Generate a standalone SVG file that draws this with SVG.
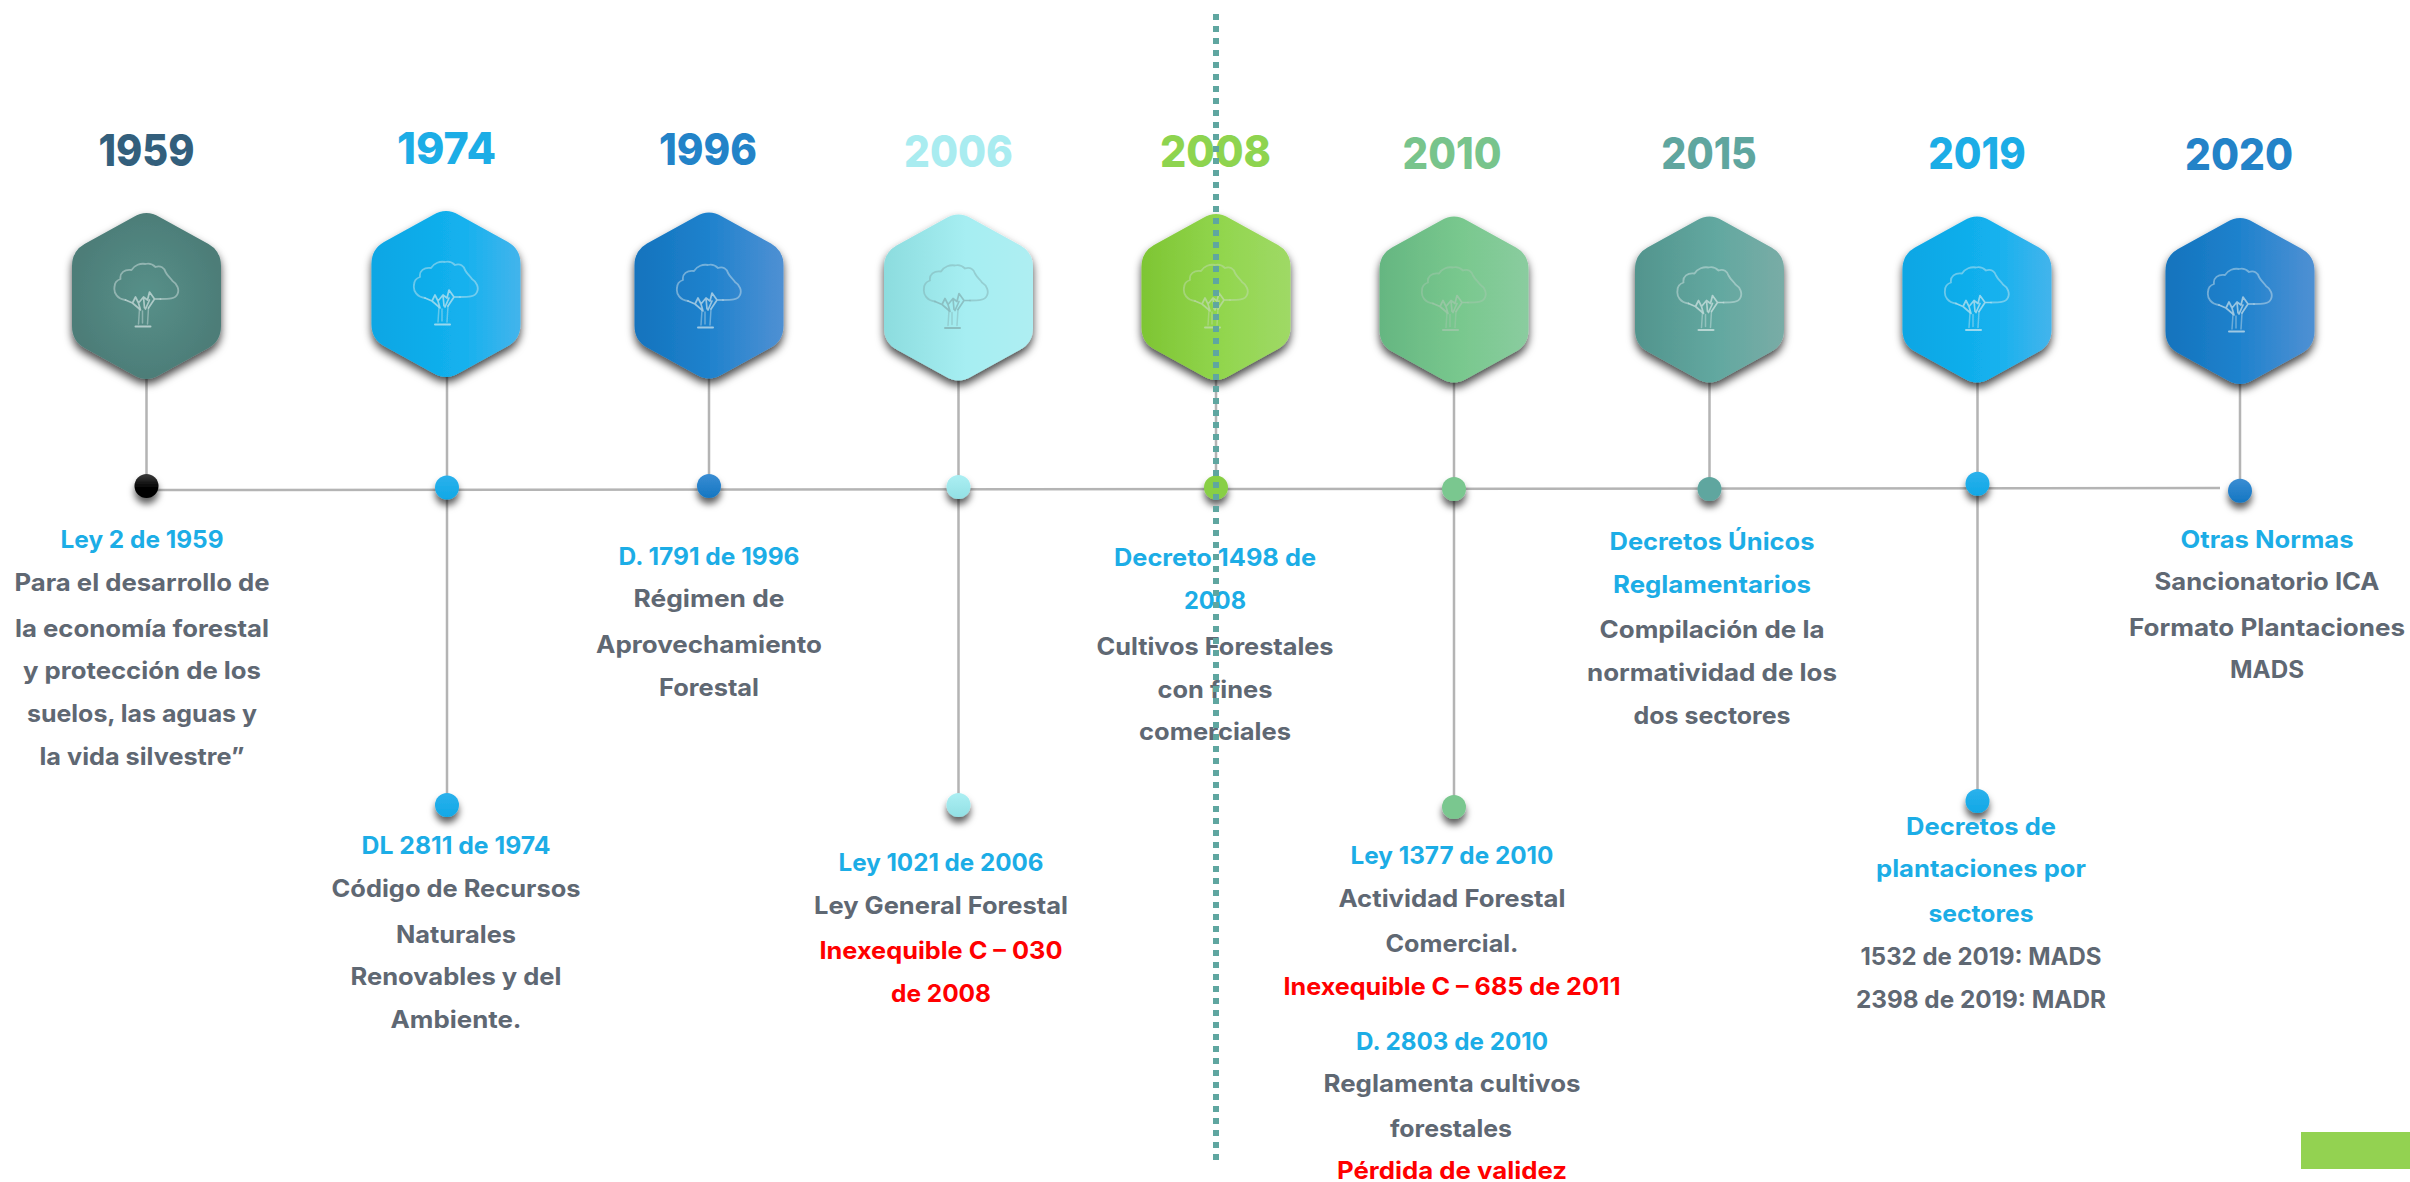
<svg xmlns="http://www.w3.org/2000/svg" xmlns:xlink="http://www.w3.org/1999/xlink" width="2410" height="1182" viewBox="0 0 2410 1182">
<style>
text{font-family:"Inter","Liberation Sans",sans-serif;font-weight:700;text-anchor:middle}
.yr{font-size:44px;font-weight:800}
.t{font-size:24px;letter-spacing:0}
.b{fill:#1cade6}.g{fill:#5f6873}.r{fill:#ff0000}
.ln{stroke:#b4b4b4;stroke-width:2.5;fill:none}
.hex{filter:url(#hs)}
.dot{filter:url(#ds)}
.tu{stroke:#e4eeee;opacity:.72}
.pale{stroke:#7fa8aa;opacity:.75}
.tree path{fill:none;stroke-linecap:round;stroke-linejoin:round}
</style>
<defs>
<filter id="hs" x="-25%" y="-25%" width="150%" height="150%"><feDropShadow dx="0" dy="5" stdDeviation="4" flood-color="#000" flood-opacity=".72"/></filter>
<filter id="ds" x="-60%" y="-60%" width="220%" height="240%"><feDropShadow dx="0" dy="6" stdDeviation="3.500" flood-color="#000" flood-opacity=".62"/></filter>
<radialGradient id="h1"><stop offset="0" stop-color="#569089"/><stop offset="1" stop-color="#4d7d78"/></radialGradient>
<linearGradient id="h2"><stop offset="0" stop-color="#0aa6e4"/><stop offset=".6" stop-color="#13b1ee"/><stop offset="1" stop-color="#43b4ec"/></linearGradient>
<linearGradient id="h3"><stop offset="0" stop-color="#1373bd"/><stop offset=".5" stop-color="#1f82cd"/><stop offset="1" stop-color="#4f90d3"/></linearGradient>
<linearGradient id="h4"><stop offset="0" stop-color="#8cdcde"/><stop offset=".55" stop-color="#a6eef2"/><stop offset="1" stop-color="#aeeef2"/></linearGradient>
<linearGradient id="h5"><stop offset="0" stop-color="#7ec533"/><stop offset=".55" stop-color="#92d64e"/><stop offset="1" stop-color="#9fd966"/></linearGradient>
<linearGradient id="h6"><stop offset="0" stop-color="#65b681"/><stop offset=".55" stop-color="#79c88e"/><stop offset="1" stop-color="#8acc9f"/></linearGradient>
<linearGradient id="h7"><stop offset="0" stop-color="#52948d"/><stop offset=".55" stop-color="#62a8a0"/><stop offset="1" stop-color="#79aca6"/></linearGradient>
<linearGradient id="d0" x2="0" y2="1"><stop offset="0" stop-color="#3c3c3c"/><stop offset=".6" stop-color="#000"/></linearGradient>
<linearGradient id="d2" x2="0" y2="1"><stop offset="0" stop-color="#2cb1ec"/><stop offset="1" stop-color="#10a8e6"/></linearGradient>
<linearGradient id="d3" x2="0" y2="1"><stop offset="0" stop-color="#3a8dd3"/><stop offset="1" stop-color="#1476c2"/></linearGradient>
<linearGradient id="d4" x2="0" y2="1"><stop offset="0" stop-color="#aceff3"/><stop offset="1" stop-color="#92e0e4"/></linearGradient>
<path id="hx" d="M-13,-79 Q0,-87 13,-79 L62,-52 Q74.500,-45 74.500,-30 L74.500,30 Q74.500,45 62,52 L13,79 Q0,87 -13,79 L-62,52 Q-74.500,45 -74.500,30 L-74.500,-30 Q-74.500,-45 -62,-52 Z"/>
<g id="tree" class="tree">
<path stroke-opacity=".6" stroke-width="1.800" d="M-21,4 C-29,3 -33,-3 -32,-9 C-32,-14 -29,-16 -26,-17 C-27,-23 -22,-27 -15,-26 C-12,-31 -6,-33 -1,-32 C3,-33 7,-31 9,-29 C14,-31 18,-28 19,-24 C21,-20 24,-18 26,-15 C31,-12 33,-6 31,-2 C29,3 22,3 14,3"/>
<path stroke-opacity=".85" stroke-width="1.700" d="M-21,4 L-14,7 L-11,1 L-8,7 L-3,1 L1,4 L3,-4 L8,3 L14,3 M-14,7 L-7,13 M-8,7 L-6,14 M-3,1 L-2,12 M3,4 L-1,13 M8,3 L2,12"/>
<path stroke-opacity=".55" stroke-width="1.500" d="M-7,13 L-8,28 M2,12 L1,28 M-4,15 L-4,27"/>
<path stroke-opacity=".9" stroke-width="2" d="M-11,30.500 H4"/>
</g>
</defs>
<rect width="2410" height="1182" fill="#fff"/>
<g id="connectors">
<path class="ln" d="M146,490 L2220,488"/>
<path class="ln" d="M146.500,379V486M447,377V805M709,378V486M958.500,380V805M1216,380V487M1454,382V807M1709.500,382V489M1977.500,382V801M2240,384V491"/>
</g>
<g id="n1959"><text class="yr" x="146.500" y="166" textLength="96" lengthAdjust="spacingAndGlyphs" fill="#335f7c">1959</text>
<use href="#hx" class="hex" x="146.500" y="296" fill="url(#h1)"/><use href="#tree" class="tu" x="146.500" y="296"/>
<circle class="dot" cx="146.500" cy="486" r="12" fill="url(#d0)"/>
<text class="t b" x="142" y="548" textLength="163" lengthAdjust="spacingAndGlyphs">Ley 2 de 1959</text>
<text class="t g" x="142" y="591" textLength="255" lengthAdjust="spacingAndGlyphs">Para el desarrollo de</text>
<text class="t g" x="142" y="637" textLength="254" lengthAdjust="spacingAndGlyphs">la economía forestal</text>
<text class="t g" x="142" y="679" textLength="238" lengthAdjust="spacingAndGlyphs">y protección de los</text>
<text class="t g" x="142" y="722" textLength="230" lengthAdjust="spacingAndGlyphs">suelos, las aguas y</text>
<text class="t g" x="142" y="765" textLength="205" lengthAdjust="spacingAndGlyphs">la vida silvestre”</text></g>
<g id="n1974"><text class="yr" x="446.500" y="164" textLength="99" lengthAdjust="spacingAndGlyphs" fill="#1cade6">1974</text>
<use href="#hx" class="hex" x="446" y="294" fill="url(#h2)"/><use href="#tree" class="tu" x="446" y="294"/>
<circle class="dot" cx="447" cy="487.500" r="12" fill="url(#d2)"/><circle class="dot" cx="447" cy="805" r="12" fill="url(#d2)"/>
<text class="t b" x="456" y="854" textLength="189" lengthAdjust="spacingAndGlyphs">DL 2811 de 1974</text>
<text class="t g" x="456" y="897" textLength="249" lengthAdjust="spacingAndGlyphs">Código de Recursos</text>
<text class="t g" x="456" y="943" textLength="120" lengthAdjust="spacingAndGlyphs">Naturales</text>
<text class="t g" x="456" y="985" textLength="211" lengthAdjust="spacingAndGlyphs">Renovables y del</text>
<text class="t g" x="456" y="1028" textLength="131" lengthAdjust="spacingAndGlyphs">Ambiente.</text></g>
<g id="n1996"><text class="yr" x="708" y="165" textLength="98" lengthAdjust="spacingAndGlyphs" fill="#2383c8">1996</text>
<use href="#hx" class="hex" x="709" y="295.500" fill="url(#h3)"/><use href="#tree" class="tu" x="709" y="297"/>
<circle class="dot" cx="709" cy="486" r="12" fill="url(#d3)"/>
<text class="t b" x="709" y="565" textLength="181" lengthAdjust="spacingAndGlyphs">D. 1791 de 1996</text>
<text class="t g" x="709" y="607" textLength="151" lengthAdjust="spacingAndGlyphs">Régimen de</text>
<text class="t g" x="709" y="653" textLength="226" lengthAdjust="spacingAndGlyphs">Aprovechamiento</text>
<text class="t g" x="709" y="696" textLength="100" lengthAdjust="spacingAndGlyphs">Forestal</text></g>
<g id="n2006"><text class="yr" x="958.500" y="166.500" textLength="109" lengthAdjust="spacingAndGlyphs" fill="#a9ecf0">2006</text>
<use href="#hx" class="hex" x="958.500" y="297.500" fill="url(#h4)"/><use href="#tree" class="pale" x="956" y="297.500"/>
<circle class="dot" cx="958.500" cy="487" r="12" fill="url(#d4)"/><circle class="dot" cx="958.500" cy="805" r="12" fill="url(#d4)"/>
<text class="t b" x="941" y="871" textLength="205" lengthAdjust="spacingAndGlyphs">Ley 1021 de 2006</text>
<text class="t g" x="941" y="914" textLength="254" lengthAdjust="spacingAndGlyphs">Ley General Forestal</text>
<text class="t r" x="941" y="959" textLength="243" lengthAdjust="spacingAndGlyphs">Inexequible C – 030</text>
<text class="t r" x="941" y="1002" textLength="100" lengthAdjust="spacingAndGlyphs">de 2008</text></g>
<g id="n2008"><text class="yr" x="1215.500" y="166.500" textLength="111" lengthAdjust="spacingAndGlyphs" fill="#8ed44f">2008</text>
<use href="#hx" class="hex" x="1216" y="297" fill="url(#h5)"/><use href="#tree" class="tu" x="1216" y="297" style="stroke:#c8dcc0"/>
<circle class="dot" cx="1216" cy="487.500" r="12" fill="#88cf45"/>
<text class="t b" x="1215" y="566" textLength="202" lengthAdjust="spacingAndGlyphs">Decreto 1498 de</text>
<text class="t b" x="1215" y="609" textLength="62" lengthAdjust="spacingAndGlyphs">2008</text>
<text class="t g" x="1215" y="655" textLength="237" lengthAdjust="spacingAndGlyphs">Cultivos Forestales</text>
<text class="t g" x="1215" y="698" textLength="115" lengthAdjust="spacingAndGlyphs">con fines</text>
<text class="t g" x="1215" y="740" textLength="152" lengthAdjust="spacingAndGlyphs">comerciales</text></g>
<g id="n2010"><text class="yr" x="1452" y="168.500" textLength="99" lengthAdjust="spacingAndGlyphs" fill="#78c48c">2010</text>
<use href="#hx" class="hex" x="1454" y="299.500" fill="url(#h6)"/><use href="#tree" class="pale" x="1454" y="299.500" style="stroke:#a9c8b0"/>
<circle class="dot" cx="1454" cy="489" r="12" fill="#7ac78f"/><circle class="dot" cx="1454" cy="807" r="12" fill="#7ac78f"/>
<text class="t b" x="1452" y="864" textLength="203" lengthAdjust="spacingAndGlyphs">Ley 1377 de 2010</text>
<text class="t g" x="1452" y="907" textLength="227" lengthAdjust="spacingAndGlyphs">Actividad Forestal</text>
<text class="t g" x="1452" y="952" textLength="133" lengthAdjust="spacingAndGlyphs">Comercial.</text>
<text class="t r" x="1452" y="995" textLength="337" lengthAdjust="spacingAndGlyphs">Inexequible C – 685 de 2011</text>
<text class="t b" x="1452" y="1050" textLength="192" lengthAdjust="spacingAndGlyphs">D. 2803 de 2010</text>
<text class="t g" x="1452" y="1092" textLength="257" lengthAdjust="spacingAndGlyphs">Reglamenta cultivos</text>
<text class="t g" x="1451" y="1137" textLength="122" lengthAdjust="spacingAndGlyphs">forestales</text>
<text class="t r" x="1452" y="1179" textLength="230" lengthAdjust="spacingAndGlyphs">Pérdida de validez</text></g>
<g id="n2015"><text class="yr" x="1709" y="169" textLength="95.500" lengthAdjust="spacingAndGlyphs" fill="#5fa69f">2015</text>
<use href="#hx" class="hex" x="1709.500" y="299.500" fill="url(#h7)"/><use href="#tree" class="tu" x="1709.500" y="299.500"/>
<circle class="dot" cx="1709.500" cy="489" r="12" fill="#5fa69f"/>
<text class="t b" x="1712" y="550" textLength="205" lengthAdjust="spacingAndGlyphs">Decretos Únicos</text>
<text class="t b" x="1712" y="592.500" textLength="198" lengthAdjust="spacingAndGlyphs">Reglamentarios</text>
<text class="t g" x="1712" y="638" textLength="225" lengthAdjust="spacingAndGlyphs">Compilación de la</text>
<text class="t g" x="1712" y="681" textLength="250" lengthAdjust="spacingAndGlyphs">normatividad de los</text>
<text class="t g" x="1712" y="724" textLength="157" lengthAdjust="spacingAndGlyphs">dos sectores</text></g>
<g id="n2019"><text class="yr" x="1977" y="169" textLength="97.500" lengthAdjust="spacingAndGlyphs" fill="#1cade6">2019</text>
<use href="#hx" class="hex" x="1977" y="299.500" fill="url(#h2)"/><use href="#tree" class="tu" x="1977" y="299.500"/>
<circle class="dot" cx="1977.500" cy="483.700" r="12" fill="url(#d2)"/><circle class="dot" cx="1977.500" cy="801" r="12" fill="url(#d2)"/>
<text class="t b" x="1981" y="835" textLength="150" lengthAdjust="spacingAndGlyphs">Decretos de</text>
<text class="t b" x="1981" y="877" textLength="210" lengthAdjust="spacingAndGlyphs">plantaciones por</text>
<text class="t b" x="1981" y="922" textLength="105" lengthAdjust="spacingAndGlyphs">sectores</text>
<text class="t g" x="1981" y="965" textLength="241" lengthAdjust="spacingAndGlyphs">1532 de 2019: MADS</text>
<text class="t g" x="1981" y="1007.500" textLength="250" lengthAdjust="spacingAndGlyphs">2398 de 2019: MADR</text></g>
<g id="n2020"><text class="yr" x="2239" y="170" textLength="108" lengthAdjust="spacingAndGlyphs" fill="#2383c8">2020</text>
<use href="#hx" class="hex" x="2240" y="301" fill="url(#h3)"/><use href="#tree" class="tu" x="2240" y="301"/>
<circle class="dot" cx="2240" cy="490.700" r="12" fill="url(#d3)"/>
<text class="t b" x="2267" y="548" textLength="173" lengthAdjust="spacingAndGlyphs">Otras Normas</text>
<text class="t g" x="2267" y="590" textLength="225" lengthAdjust="spacingAndGlyphs">Sancionatorio ICA</text>
<text class="t g" x="2267" y="636" textLength="276" lengthAdjust="spacingAndGlyphs">Formato Plantaciones</text>
<text class="t g" x="2267" y="677.500" textLength="74" lengthAdjust="spacingAndGlyphs">MADS</text></g>
<rect id="corner-bar" x="2301" y="1132" width="109" height="37" fill="#93d251"/>
<g id="divider"><path d="M1216,14V1160" fill="none" stroke="#5fa6a0" stroke-width="6" stroke-dasharray="6 6"/></g>
</svg>
